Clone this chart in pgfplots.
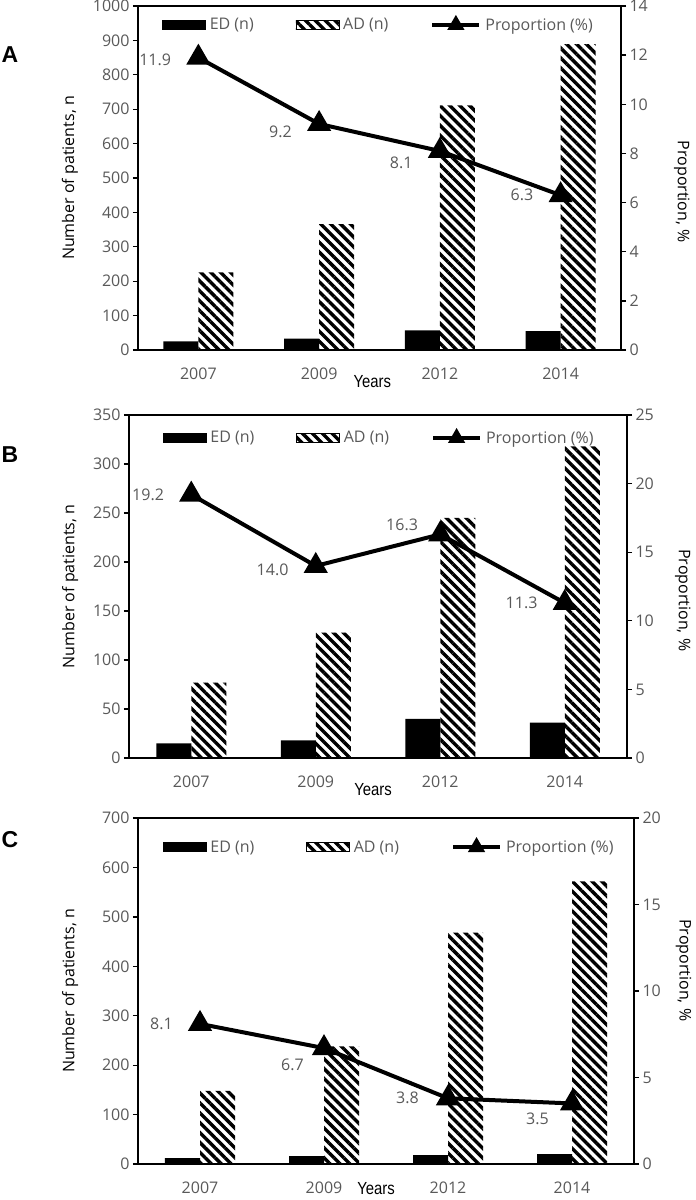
\documentclass[border=0pt]{standalone}
\usepackage{fontspec}
\setmainfont{Open Sans}
\newfontfamily\narrowfont[FakeStretch=0.85]{Liberation Sans}
\newfontfamily\letterfont{Liberation Sans}
\usepackage{pgfplots}
\pgfplotsset{compat=1.18}
\usetikzlibrary{patterns.meta}
\definecolor{tickgray}{HTML}{595959}

\pgfplotsset{
  common/.style={
    scale only axis,
    xmin=-0.5, xmax=3.5,
    clip=false,
    tick align=outside,
    major tick length=5pt,
    axis line style={line width=1.3pt},
    every tick/.style={black, line width=1.3pt},
    tick label style={font=\fontsize{16}{19}\selectfont, text=tickgray},
    label style={font=\fontsize{16}{19}\selectfont},
    /pgf/number format/assume math mode=true,
    /pgf/number format/1000 sep={},
  },
  panelleft/.style={
    common,
    xtick={0,1,2,3},
    xticklabels={2007,2009,2012,2014},
    major x tick style={draw=none},
    xticklabel style={yshift=-9pt},
    ytick pos=left,
    ybar, bar width=35pt,
    ymin=0,
    ylabel={Number of patients, n},
    ylabel style={anchor=center},
    xlabel={\narrowfont\fontsize{17.5}{20}\selectfont Years},
    xlabel style={anchor=center},
  },
  panelright/.style={
    common,
    axis x line=none,
    axis y line*=right,
    ymin=0,
    ylabel={Proportion, \%},
    ylabel style={anchor=center, rotate=180},
    legend columns=3,
    legend style={draw=none, fill=none, inner sep=0pt, anchor=west,
      font=\fontsize{16}{19}\selectfont, text=tickgray,
      /tikz/every odd column/.append style={column sep=2pt},
      /tikz/every even column/.append style={column sep=40pt}},
  },
  edbar/.style={fill=black, draw=none, bar shift=-17.5pt},
  adbar/.style={draw=none, pattern={Lines[angle=-45,distance=7pt,line width=3.4pt]}, bar shift=17.5pt},
  propline/.style={black, line width=4pt, mark=triangle*, mark size=10pt, mark options={solid},
    nodes near coords, point meta=explicit symbolic,
    visualization depends on={value \thisrow{dy} \as \dy},
    visualization depends on={value \thisrow{dx} \as \dx},
    every node near coord/.append style={anchor=east, xshift=\dx pt, yshift=\dy pt,
      font=\fontsize{16}{19}\selectfont, text=tickgray},
    legend image code/.code={\draw[##1, mark size=6pt, mark repeat=2, mark phase=2] plot coordinates {(0pt,0pt) (23.5pt,0pt) (47pt,0pt)};},
  },
  edleg/.style={legend image code/.code={\fill[black] (0pt,-4.5pt) rectangle (43pt,4.5pt);}},
  adleg/.style={legend image code/.code={\fill[pattern={Lines[angle=-45,distance=7pt,line width=3.4pt]}] (0pt,-4.5pt) rectangle (43pt,4.5pt);}},
}

\begin{document}
\begin{tikzpicture}[x=1pt,y=1pt]
\useasboundingbox (0,0) rectangle (696,-1200);

% ---------------- Panel A ----------------
\begin{axis}[panelleft, at={(138pt,-350pt)}, anchor=south west, width=483pt, height=344pt,
  ymax=1000, ytick={0,100,...,1000},
  ylabel style={at={(axis description cs:-0.141,0.5)}},
  xlabel style={at={(axis description cs:0.485,-0.093)}}]
\addplot[edbar] coordinates {(0,25) (1,33) (2,57) (3,55)};
\addplot[adbar] coordinates {(0,226) (1,366) (2,711) (3,889)};
\end{axis}
\begin{axis}[panelright, at={(138pt,-350pt)}, anchor=south west, width=483pt, height=344pt,
  ymax=14, ytick={0,2,...,14},
  ylabel style={at={(axis description cs:1.126,0.46)}},
  legend style={at={(rel axis cs:0.05,0.945)}}]
\addlegendimage{edleg}\addlegendentry{ED (n)}
\addlegendimage{adleg}\addlegendentry{AD (n)}
\addplot[propline] table[meta=lab] {
x y lab dx dy
0 11.9 11.9 -22 -2
1 9.2 9.2 -22 -8
2 8.1 8.1 -22 -12
3 6.3 6.3 -22 0
};
\addlegendentry{Proportion (\%)}
\end{axis}

% ---------------- Panel B ----------------
\begin{axis}[panelleft, at={(129pt,-758pt)}, anchor=south west, width=498pt, height=343pt,
  ymax=350, ytick={0,50,...,350},
  ylabel style={at={(axis description cs:-0.118,0.5)}},
  xlabel style={at={(axis description cs:0.49,-0.093)}}]
\addplot[edbar] coordinates {(0,15) (1,18) (2,40) (3,36)};
\addplot[adbar] coordinates {(0,77) (1,128) (2,245) (3,318)};
\end{axis}
\begin{axis}[panelright, at={(129pt,-758pt)}, anchor=south west, width=498pt, height=343pt,
  ymax=25, ytick={0,5,...,25},
  ylabel style={at={(axis description cs:1.112,0.46)}},
  legend style={at={(rel axis cs:0.068,0.933)}}]
\addlegendimage{edleg}\addlegendentry{ED (n)}
\addlegendimage{adleg}\addlegendentry{AD (n)}
\addplot[propline] table[meta=lab] {
x y lab dx dy
0 19.2 19.2 -22 0
1 14.0 14.0 -22 -4
2 16.3 16.3 -17 10
3 11.3 11.3 -22 0
};
\addlegendentry{Proportion (\%)}
\end{axis}

% ---------------- Panel C ----------------
\begin{axis}[panelleft, at={(138pt,-1164pt)}, anchor=south west, width=496pt, height=346pt,
  ymax=700, ytick={0,100,...,700},
  ylabel style={at={(axis description cs:-0.137,0.5)}},
  xlabel style={at={(axis description cs:0.48,-0.072)}}]
\addplot[edbar] coordinates {(0,12) (1,16) (2,18) (3,20)};
\addplot[adbar] coordinates {(0,148) (1,238) (2,468) (3,572)};
\end{axis}
\begin{axis}[panelright, at={(138pt,-1164pt)}, anchor=south west, width=496pt, height=346pt,
  ymax=20, ytick={0,5,...,20},
  ylabel style={at={(axis description cs:1.1,0.56)}},
  legend style={at={(rel axis cs:0.05,0.916)}, /tikz/every even column/.append style={column sep=50pt}}]
\addlegendimage{edleg}\addlegendentry{ED (n)}
\addlegendimage{adleg}\addlegendentry{AD (n)}
\addplot[propline] table[meta=lab] {
x y lab dx dy
0 8.1 8.1 -22 0
1 6.7 6.7 -15 -17
2 3.8 3.8 -24 0
3 3.5 3.5 -18 -15
};
\addlegendentry{Proportion (\%)}
\end{axis}

\node[font=\letterfont\fontsize{23}{26}\selectfont\bfseries] at (10,-55) {A};
\node[font=\letterfont\fontsize{23}{26}\selectfont\bfseries] at (10,-455) {B};
\node[font=\letterfont\fontsize{23}{26}\selectfont\bfseries] at (10,-840) {C};
\end{tikzpicture}
\end{document}
